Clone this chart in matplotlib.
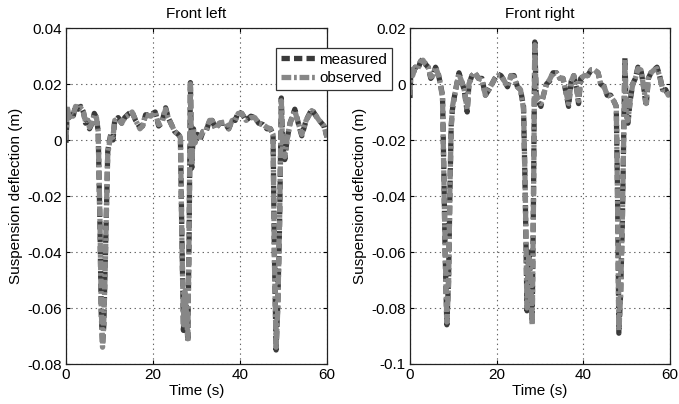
"""
Front suspension deflection: measured vs observed, left and right wheel.
"""

import matplotlib
matplotlib.use("Agg")
import matplotlib.pyplot as plt

plt.rcParams["font.family"] = ["Liberation Sans", "DejaVu Sans"]
plt.rcParams["font.size"] = 11
plt.rcParams["lines.scale_dashes"] = False

# front left wheel (s, m)
t_left = [0.0, 0.3, 0.7, 1.1, 1.6, 2.2, 2.8, 3.4, 4.0, 4.5, 5.0, 5.4, 6.0, 6.5,
          7.0, 7.4, 7.8, 8.1, 8.4, 8.7, 9.0, 9.3, 9.6, 9.9, 10.3, 10.8, 11.2,
          12.0, 12.8, 13.5, 14.5, 15.2, 16.0, 17.0, 17.6, 18.3, 19.5, 20.5,
          21.3, 22.0, 22.9, 23.5, 24.1, 25.0, 25.8, 26.3, 26.6, 27.0, 27.3,
          27.7, 28.0, 28.3, 28.6, 28.9, 29.3, 29.7, 30.2, 30.8, 31.5, 32.2,
          33.0, 33.6, 34.4, 35.3, 36.5, 37.4, 38.2, 38.9, 39.6, 40.4, 41.4,
          42.5, 43.4, 44.3, 45.3, 46.2, 47.0, 47.6, 47.9, 48.3, 48.7, 49.1,
          49.5, 49.8, 50.3, 50.8, 51.5, 52.6, 53.4, 54.2, 55.2, 56.5, 57.3,
          58.2, 59.3, 60.0]
meas_left = [-0.001, 0.011, 0.008, 0.009, 0.008, 0.0125, 0.011, 0.012, 0.010,
             0.006, 0.007, 0.004, 0.006, 0.0095, 0.008, 0.003, -0.030, -0.062,
             -0.073, -0.066, -0.045, -0.025, -0.004, -0.001, 0.002, 0.000,
             0.007, 0.008, 0.006, 0.008, 0.0095, 0.010, 0.007, 0.0045, 0.005,
             0.009, 0.009, 0.010, 0.005, 0.006, 0.0115, 0.008, 0.006, 0.003,
             0.002, 0.001, -0.030, -0.068, -0.055, -0.060, -0.072, -0.035,
             0.0205, -0.010, 0.004, -0.001, 0.002, 0.000, 0.003, 0.003, 0.007,
             0.007, 0.004, 0.006, 0.006, 0.004, 0.007, 0.007, 0.010, 0.0095,
             0.007, 0.0085, 0.008, 0.006, 0.0055, 0.004, 0.004, 0.002, -0.040,
             -0.075, -0.058, -0.030, 0.015, -0.002, -0.007, 0.000, 0.006,
             0.011, 0.006, 0.0015, 0.007, 0.011, 0.009, 0.007, 0.005, 0.001]
obs_left = [0.000, 0.012, 0.008, 0.009, 0.0085, 0.012, 0.011, 0.0115, 0.010,
            0.0065, 0.007, 0.0045, 0.006, 0.009, 0.008, 0.003, -0.028, -0.060,
            -0.074, -0.064, -0.047, -0.024, -0.005, -0.002, 0.002, 0.001,
            0.007, 0.0075, 0.006, 0.008, 0.009, 0.010, 0.007, 0.004, 0.005,
            0.009, 0.0085, 0.010, 0.0055, 0.006, 0.011, 0.008, 0.006, 0.003,
            0.002, 0.001, -0.032, -0.066, -0.054, -0.062, -0.071, -0.033,
            0.020, -0.009, 0.004, -0.001, 0.002, 0.001, 0.003, 0.0035, 0.007,
            0.007, 0.004, 0.006, 0.0065, 0.004, 0.007, 0.007, 0.0095, 0.0095,
            0.007, 0.008, 0.008, 0.006, 0.0055, 0.0045, 0.004, 0.002, -0.042,
            -0.074, -0.060, -0.028, 0.014, -0.003, -0.006, 0.000, 0.006,
            0.0105, 0.006, 0.002, 0.007, 0.0105, 0.009, 0.007, 0.005, 0.001]

# front right wheel (s, m)
t_right = [0.0, 0.2, 0.6, 1.2, 1.8, 2.4, 3.0, 3.6, 4.2, 4.8, 5.3, 5.9, 6.5,
           7.0, 7.5, 7.8, 8.1, 8.5, 8.9, 9.2, 9.5, 9.8, 10.3, 10.8, 11.3,
           11.9, 12.5, 13.2, 13.6, 14.3, 15.0, 15.8, 16.6, 17.4, 18.2, 18.9,
           19.6, 20.3, 21.0, 21.8, 22.5, 23.3, 24.0, 24.8, 25.5, 26.2, 26.6,
           27.0, 27.4, 27.8, 28.2, 28.5, 28.8, 29.1, 29.5, 30.2, 30.8, 31.5,
           32.2, 33.0, 33.8, 34.6, 35.3, 36.0, 36.6, 37.2, 37.8, 38.5, 38.9,
           39.4, 40.2, 41.0, 41.8, 42.6, 43.4, 44.0, 44.8, 45.5, 46.3, 47.0,
           47.6, 47.9, 48.2, 48.6, 49.0, 49.3, 49.6, 49.9, 50.3, 50.8, 51.4,
           52.0, 52.6, 53.3, 54.0, 54.5, 55.0, 55.6, 56.3, 57.0, 57.6, 58.3,
           59.0, 59.6, 60.0]
meas_right = [-0.005, 0.005, 0.003, 0.006, 0.005, 0.008, 0.009, 0.007, 0.006,
              0.002, 0.003, 0.006, 0.004, 0.000, -0.004, -0.030, -0.060,
              -0.086, -0.070, -0.040, -0.015, -0.009, -0.004, 0.000, 0.004,
              0.001, -0.002, -0.010, 0.000, 0.003, 0.004, 0.002, 0.002, -0.004,
              -0.002, 0.000, 0.002, 0.0035, 0.003, 0.001, -0.001, 0.003, 0.003,
              -0.001, -0.002, -0.008, -0.040, -0.081, -0.060, -0.070, -0.085,
              -0.040, 0.015, -0.003, -0.006, -0.008, -0.004, 0.000, 0.001,
              0.004, 0.004, 0.002, 0.002, -0.003, -0.008, 0.001, 0.003, -0.002,
              -0.007, 0.002, 0.003, 0.003, 0.005, 0.005, 0.004, 0.000, -0.001,
              -0.004, -0.004, -0.006, -0.008, -0.040, -0.089, -0.075, -0.050,
              -0.020, 0.0095, -0.010, -0.014, -0.006, 0.000, 0.002, 0.006,
              0.005, -0.002, -0.008, 0.002, 0.004, 0.005, 0.006, 0.003, -0.002,
              -0.002, -0.004, -0.003]
obs_right = [-0.004, 0.006, 0.003, 0.006, 0.0055, 0.008, 0.0085, 0.007, 0.006,
             0.0025, 0.003, 0.006, 0.0035, 0.000, -0.005, -0.032, -0.058,
             -0.085, -0.072, -0.038, -0.016, -0.008, -0.004, 0.000, 0.0035,
             0.001, -0.002, -0.009, 0.000, 0.003, 0.004, 0.002, 0.0015, -0.004,
             -0.002, 0.000, 0.002, 0.003, 0.003, 0.001, -0.001, 0.003, 0.0025,
             -0.001, -0.002, -0.009, -0.038, -0.080, -0.062, -0.068, -0.086,
             -0.042, 0.014, -0.004, -0.006, -0.007, -0.004, 0.000, 0.0015,
             0.004, 0.004, 0.002, 0.002, -0.003, -0.007, 0.001, 0.003, -0.002,
             -0.006, 0.002, 0.003, 0.003, 0.005, 0.005, 0.004, 0.000, -0.001,
             -0.004, -0.0045, -0.006, -0.008, -0.042, -0.088, -0.076, -0.048,
             -0.021, 0.009, -0.011, -0.013, -0.006, 0.000, 0.002, 0.0055,
             0.005, -0.002, -0.007, 0.002, 0.004, 0.005, 0.0055, 0.003, -0.002,
             -0.002, -0.004, -0.003]

left_ticks = [-0.08, -0.06, -0.04, -0.02, 0, 0.02, 0.04]
left_labels = ["-0.08", "-0.06", "-0.04", "-0.02", "0", "0.02", "0.04"]
right_ticks = [-0.1, -0.08, -0.06, -0.04, -0.02, 0, 0.02]
right_labels = ["-0.1", "-0.08", "-0.06", "-0.04", "-0.02", "0", "0.02"]
time_ticks = [0, 20, 40, 60]

W, H = 679, 404
fig = plt.figure(figsize=(W / 100, H / 100), dpi=100)
ax_l = fig.add_axes([66 / W, 1 - 364 / H, 261 / W, 336 / H])
ax_r = fig.add_axes([410 / W, 1 - 364 / H, 260 / W, 336 / H])

panels = [
    (ax_l, "Front left", t_left, meas_left, obs_left, left_ticks, left_labels),
    (ax_r, "Front right", t_right, meas_right, obs_right, right_ticks, right_labels),
]

for ax, title, t, meas, obs, yt, yl in panels:
    ax.plot(t, meas, color="#3a3a3a", lw=3.8, dashes=(6, 3), label="measured")
    ax.plot(t, obs, color="#878787", lw=3.8, dashes=(7, 2, 2, 2),
            label="observed")
    ax.set_xlim(0, 60)
    ax.set_ylim(yt[0], yt[-1])
    ax.set_xticks(time_ticks)
    ax.set_yticks(yt)
    ax.set_yticklabels(yl)
    ax.set_title(title, fontsize=11, pad=7)
    ax.set_xlabel("Time (s)", labelpad=1)
    ax.set_ylabel("Suspension deflection (m)", labelpad=3)
    ax.grid(True, color="#666666", linestyle=(0, (1, 2.5)), linewidth=0.8)
    ax.tick_params(direction="in", top=True, right=True, length=3,
                   width=0.8, labelsize=11, pad=3)
    for sp in ax.spines.values():
        sp.set_linewidth(0.9)
        sp.set_color("#222222")

handles, labels = ax_l.get_legend_handles_labels()
leg = fig.legend(handles, labels, loc="upper left",
                 bbox_to_anchor=(276 / W, 1 - 48 / H), fontsize=11,
                 frameon=True, fancybox=False, framealpha=1,
                 edgecolor="#333333", borderpad=0.3, labelspacing=0.3,
                 handlelength=2.4, handletextpad=0.15, borderaxespad=0)
leg.get_frame().set_linewidth(0.9)

fig.savefig("out.png", dpi=100)
